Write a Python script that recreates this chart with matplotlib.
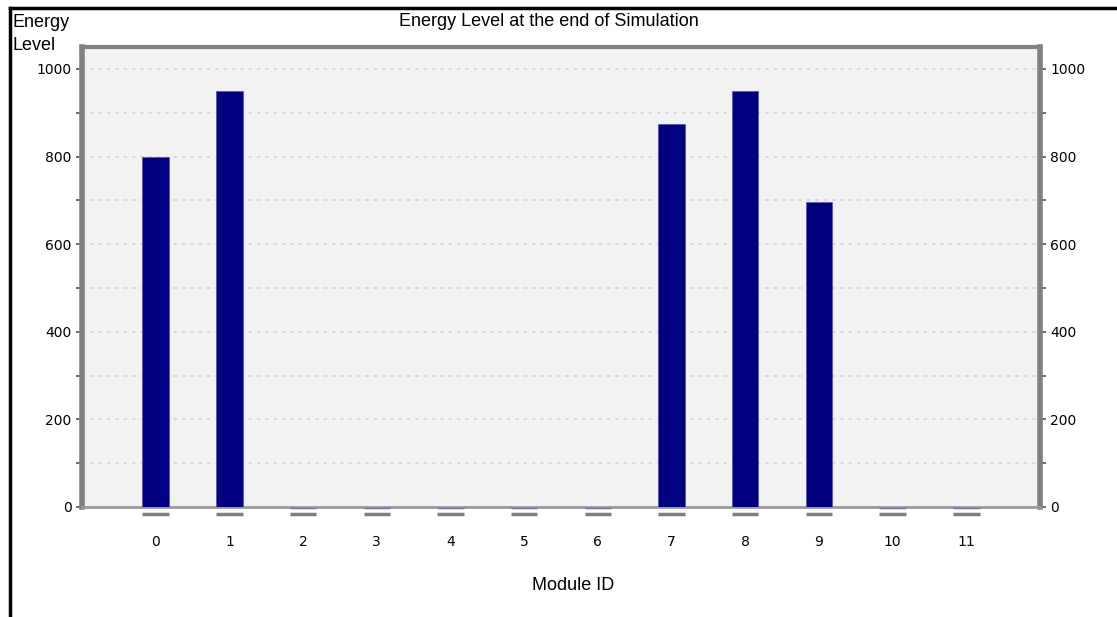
import matplotlib
matplotlib.use("Agg")
import matplotlib.pyplot as plt
from matplotlib.lines import Line2D

modules = list(range(12))
energy = [800, 950, 0, 0, 0, 0, 0, 875, 950, 697, 0, 0]
y_ticks = [0, 200, 400, 600, 800, 1000]

fig = plt.figure(figsize=(11.17, 6.17), dpi=100)
ax = fig.add_axes([82 / 1117, 1 - 507 / 617, (1040 - 82) / 1117, (507 - 47) / 617])
ax.set_facecolor("#f2f2f2")

bars = ax.bar(modules, energy, width=0.36, color="#000080", edgecolor="#5a5aa8", linewidth=0.6, zorder=3)
# little shadow dashes below each category
ax.hlines([-15] * len(modules), [m - 0.18 for m in modules], [m + 0.18 for m in modules],
          color="#7f7f7f", linewidth=2.5, clip_on=False, zorder=4)
for m, e in zip(modules, energy):
    if e == 0:
        ax.hlines(-3, m - 0.18, m + 0.18, color="#7070b0", linewidth=1, clip_on=False, zorder=4)

ax.set_xlim(-1, 12)
ax.set_ylim(0, 1050)
ax.set_xticks(modules)
ax.set_xticklabels([str(m) for m in modules], fontsize=10, family="DejaVu Sans")
ax.tick_params(axis="x", length=0, pad=20)
ax.set_yticks(y_ticks)
ax.set_yticks(range(100, 1000, 200), minor=True)
ax.tick_params(axis="y", which="both", labelsize=10, length=4, width=1.2, color="#555555",
               right=True, labelright=True, direction="out")
ax.grid(axis="y", which="both", linestyle=(0, (2, 3)), color="#d4d4d4", linewidth=1.2, zorder=0)

for s in ["left", "right"]:
    ax.spines[s].set_color("#808080")
    ax.spines[s].set_linewidth(4)
ax.spines["top"].set_color("#808080")
ax.spines["top"].set_linewidth(3)
ax.spines["bottom"].set_color("#9a9a9a")
ax.spines["bottom"].set_linewidth(2)

fig.text(549 / 1117, 1 - 21 / 617, "Energy Level at the end of Simulation", ha="center", va="center",
         fontsize=13, family="Liberation Sans")
fig.text(13 / 1117, 1 - 34 / 617, "Energy\nLevel", ha="left", va="center", fontsize=13,
         family="Liberation Sans", linespacing=1.4)
fig.text(573 / 1117, 1 - 586 / 617, "Module ID", ha="center", va="center", fontsize=13,
         family="Liberation Sans")

# outer frame of the screenshot
fig.add_artist(Line2D([10 / 1117, 10 / 1117], [0, 1 - 8 / 617], color="black", linewidth=2.5))
fig.add_artist(Line2D([10 / 1117, 1], [1 - 8 / 617, 1 - 8 / 617], color="black", linewidth=2.5))

fig.savefig("out.png", dpi=100)
